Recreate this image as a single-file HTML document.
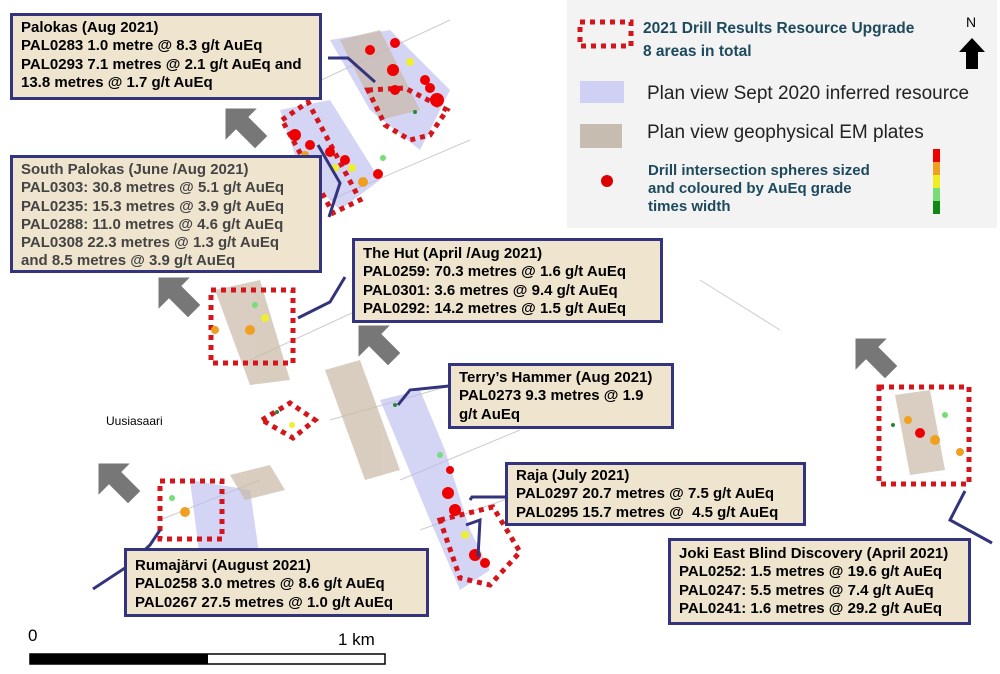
<!DOCTYPE html>
<html><head><meta charset="utf-8"><style>
body{margin:0;width:1000px;height:674px;position:relative;background:#fff;overflow:hidden;font-family:"Liberation Sans",Arial,sans-serif}
.b{position:absolute;background:#efe5cf;border:3px solid #34347e;box-sizing:border-box;font-weight:bold;font-size:15px;line-height:18.3px;padding:3px 8px;color:#000;white-space:nowrap}
svg{position:absolute;left:0;top:0}
.lg{position:absolute;font-family:"Liberation Sans",sans-serif}
</style></head><body>
<svg width="1000" height="674">
<rect x="567" y="0" width="430" height="228" fill="#f3f3f3"/>
<g stroke="#ccc" stroke-width="1">
<line x1="300" y1="90" x2="450" y2="20"/><line x1="330" y1="200" x2="470" y2="140"/><line x1="250" y1="360" x2="380" y2="300"/>
<line x1="330" y1="420" x2="470" y2="380"/><line x1="400" y1="480" x2="520" y2="430"/><line x1="700" y1="280" x2="780" y2="330"/>
<line x1="420" y1="530" x2="560" y2="480"/><line x1="160" y1="520" x2="260" y2="480"/>
</g>
<g fill="#b8b8ee" opacity="0.6">
<polygon points="330,40 390,30 450,90 420,150 370,110"/>
<polygon points="280,110 330,100 380,180 340,210 300,170"/>
<polygon points="380,400 420,390 445,450 470,530 490,570 460,590 430,520"/>
<polygon points="190,480 250,490 260,560 200,560"/>
</g>
<g fill="#c9b9a6" opacity="0.7">
<polygon points="340,40 380,30 420,110 380,120"/>
<polygon points="215,290 260,280 290,380 250,385"/>
<polygon points="325,370 360,360 400,470 365,480"/>
<polygon points="230,475 270,465 285,490 245,500"/>
<polygon points="895,395 930,390 945,470 910,475"/>
</g>
<g fill="none" stroke="#d4161c" stroke-width="5" stroke-dasharray="5,5">
<polygon points="282,120 308,102 360,200 333,213"/>
<polygon points="368,90 405,88 447,110 430,135 410,140 385,125"/>
<rect x="211" y="290" width="82" height="73"/>
<polygon points="262,420 290,403 315,420 293,438"/>
<rect x="160" y="481" width="62" height="58"/>
<polygon points="440,520 493,507 520,552 490,585 460,578"/>
<rect x="879" y="387" width="90" height="97"/>
</g>
<g fill="#e00">
<circle cx="295" cy="135" r="6"/><circle cx="310" cy="145" r="5"/><circle cx="330" cy="152" r="5"/><circle cx="345" cy="160" r="5"/>
<circle cx="370" cy="50" r="5"/><circle cx="395" cy="43" r="5"/><circle cx="393" cy="70" r="6"/><circle cx="395" cy="90" r="5"/>
<circle cx="425" cy="80" r="5"/><circle cx="437" cy="100" r="7"/><circle cx="430" cy="88" r="5"/><circle cx="378" cy="174" r="5"/>
<circle cx="448" cy="493" r="6"/><circle cx="455" cy="510" r="6"/><circle cx="475" cy="555" r="6"/><circle cx="920" cy="433" r="5"/>
<circle cx="450" cy="470" r="4"/><circle cx="485" cy="563" r="5"/>
</g>
<g fill="#f0a020"><circle cx="215" cy="330" r="4"/><circle cx="250" cy="330" r="5"/><circle cx="185" cy="512" r="5"/><circle cx="908" cy="420" r="4"/><circle cx="935" cy="440" r="5"/><circle cx="960" cy="452" r="4"/><circle cx="363" cy="182" r="5"/><circle cx="305" cy="155" r="4"/></g>
<g fill="#ee3"><circle cx="265" cy="318" r="4"/><circle cx="410" cy="62" r="4"/><circle cx="352" cy="168" r="4"/><circle cx="335" cy="168" r="4"/><circle cx="465" cy="535" r="4"/><circle cx="292" cy="425" r="3"/></g>
<g fill="#7d7"><circle cx="255" cy="305" r="3"/><circle cx="383" cy="158" r="3"/><circle cx="172" cy="498" r="3"/><circle cx="440" cy="455" r="3"/><circle cx="945" cy="415" r="3"/></g>
<g fill="#283"><circle cx="277" cy="412" r="2"/><circle cx="395" cy="405" r="2"/><circle cx="893" cy="425" r="2"/><circle cx="415" cy="112" r="2"/></g>
<g stroke="#34347e" stroke-width="3" fill="none">
<polyline points="328,58 348,58 375,82"/>
<polyline points="318,145 340,183 329,217"/>
<polyline points="345,277 330,302 298,318"/>
<polyline points="449,386 410,390 398,405"/>
<polyline points="508,497 472,497 470,500"/>
<polyline points="93,589 125,568 150,545 160,530"/>
<polyline points="466,525 480,520 478,557"/>
<polyline points="965,491 950,520 992,543"/>
</g>
<g fill="#777" stroke="#fff" stroke-width="1">
<polygon points="225,108 258,108 249,117 268,136 255,149 236,130 225,141"/>
<polygon points="158,277 191,277 182,286 201,305 188,318 169,299 158,310"/>
<polygon points="358,325 391,325 382,334 401,353 388,366 369,347 358,358"/>
<polygon points="98,463 131,463 122,472 141,491 128,504 109,485 98,496"/>
<polygon points="855,338 888,338 879,347 898,366 885,379 866,360 855,371"/>
</g>
<rect x="580" y="22" width="51" height="24" fill="none" stroke="#d4161c" stroke-width="5" stroke-dasharray="5,5"/>
<rect x="580" y="81" width="44" height="22" fill="#cfd0f3"/>
<rect x="580" y="124" width="42" height="24" fill="#c6bcb0"/>
<circle cx="607" cy="181" r="6" fill="#d00"/>
<rect x="933" y="149" width="7" height="13" fill="#e00"/><rect x="933" y="162" width="7" height="13" fill="#f0a020"/><rect x="933" y="175" width="7" height="13" fill="#ee2"/><rect x="933" y="188" width="7" height="13" fill="#7d7"/><rect x="933" y="201" width="7" height="13" fill="#181"/>
<polygon points="972,38 985,52 978,52 978,69 966,69 966,52 959,52" fill="#000"/>
<rect x="30" y="654" width="355" height="10" fill="#fff" stroke="#000" stroke-width="1.5"/>
<rect x="30" y="654" width="178" height="10" fill="#000"/>
</svg>
<div class="lg" style="left:643px;top:17px;font-weight:bold;font-size:15.5px;line-height:23px;color:#1d4a5c">2021 Drill Results Resource Upgrade<br>8 areas in total</div>
<div class="lg" style="left:966px;top:14px;font-size:14px">N</div>
<div class="lg" style="left:647px;top:83px;font-size:19px;color:#222">Plan view Sept 2020 inferred resource</div>
<div class="lg" style="left:647px;top:122px;font-size:19px;color:#222">Plan view geophysical EM plates</div>
<div class="lg" style="left:648px;top:162px;font-weight:bold;font-size:15px;line-height:18px;color:#1d4a5c">Drill intersection spheres sized<br>and coloured by AuEq grade<br>times width</div>
<div class="lg" style="left:106px;top:414px;font-size:12px">Uusiasaari</div>
<div class="lg" style="left:28px;top:626px;font-size:17px">0</div>
<div class="lg" style="left:338px;top:630px;font-size:17px">1 km</div>
<div class="b" style="left:10px;top:13px;width:312px;height:87px">Palokas (Aug 2021)<br>PAL0283 1.0 metre @ 8.3 g/t AuEq<br>PAL0293 7.1 metres @ 2.1 g/t AuEq and<br>13.8 metres @ 1.7 g/t AuEq</div>
<div class="b" style="left:10px;top:155px;width:312px;height:118px;color:#444">South Palokas (June /Aug 2021)<br>PAL0303: 30.8 metres @ 5.1 g/t AuEq<br>PAL0235: 15.3 metres @ 3.9 g/t AuEq<br>PAL0288: 11.0 metres @ 4.6 g/t AuEq<br>PAL0308 22.3 metres @ 1.3 g/t AuEq<br>and 8.5 metres @ 3.9 g/t AuEq</div>
<div class="b" style="left:352px;top:238px;width:311px;height:85px;padding-top:4px">The Hut (April /Aug 2021)<br>PAL0259: 70.3 metres @ 1.6 g/t AuEq<br>PAL0301: 3.6 metres @ 9.4 g/t AuEq<br>PAL0292: 14.2 metres @ 1.5 g/t AuEq</div>
<div class="b" style="left:448px;top:363px;width:226px;height:66px">Terry’s Hammer (Aug 2021)<br>PAL0273 9.3 metres @ 1.9<br>g/t AuEq</div>
<div class="b" style="left:505px;top:462px;width:301px;height:64px;padding-top:2px">Raja (July 2021)<br>PAL0297 20.7 metres @ 7.5 g/t AuEq<br>PAL0295 15.7 metres @&nbsp; 4.5 g/t AuEq</div>
<div class="b" style="left:124px;top:548px;width:305px;height:69px;padding-top:6px">Rumajärvi (August 2021)<br>PAL0258 3.0 metres @ 8.6 g/t AuEq<br>PAL0267 27.5 metres @ 1.0 g/t AuEq</div>
<div class="b" style="left:668px;top:538px;width:303px;height:87px;padding-top:4px">Joki East Blind Discovery (April 2021)<br>PAL0252: 1.5 metres @ 19.6 g/t AuEq<br>PAL0247: 5.5 metres @ 7.4 g/t AuEq<br>PAL0241: 1.6 metres @ 29.2 g/t AuEq</div>
</body></html>
